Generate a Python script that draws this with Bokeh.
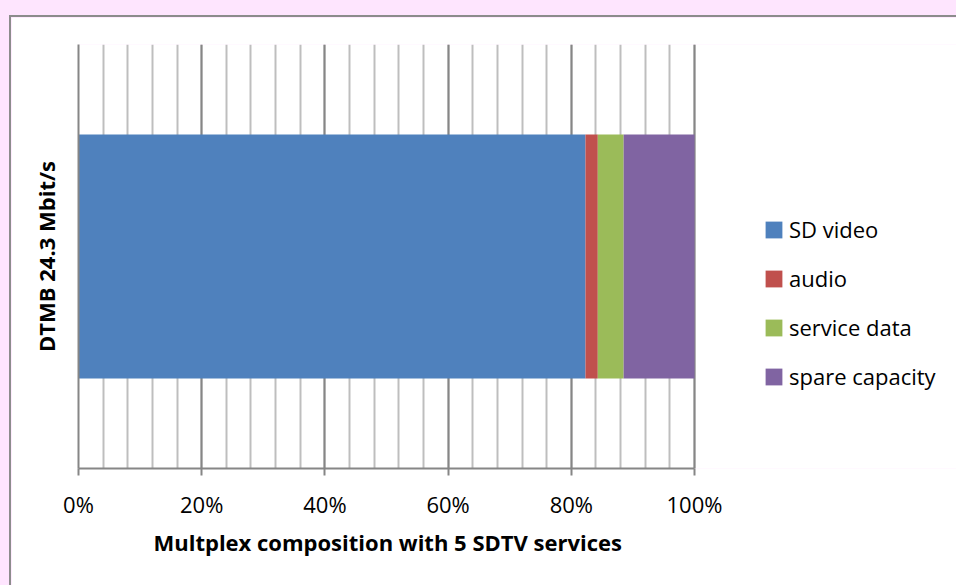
from bokeh.plotting import figure
from bokeh.layouts import column
from bokeh.models import (Range1d, FixedTicker, PrintfTickFormatter,
                          Legend, LegendItem, ColumnDataSource, Title)
from bokeh.embed import file_html
from bokeh.resources import INLINE

# Multiplex capacity split, percent of the 24.3 Mbit/s channel
series = ["SD video", "audio", "service data", "spare capacity"]
shares = [82.3, 2.0, 4.2, 11.5]
colors = ["#4f81bd", "#c0504d", "#9bbb59", "#8064a2"]
row_label = "DTMB 24.3 Mbit/s"
x_title = "Multplex composition  with 5 SDTV  services"
tick_values = [0, 20, 40, 60, 80, 100]
grid_step = 4

FONT = "Open Sans"
AXIS_GRAY = "#868686"
MINOR_GRAY = "#bebebe"

# canvas geometry: the 0-100 % axis spans AXIS_PX pixels, and the plot frame
# runs on to the right edge so the legend can sit inside it
CANVAS_W, CANVAS_H = 947, 570
LEFT, TOP, BOTTOM = 67, 27, 119
AXIS_PX = 616
x_end = 100.0 * (CANVAS_W - LEFT) / AXIS_PX

p = figure(width=CANVAS_W, height=CANVAS_H,
           x_range=Range1d(0, x_end), y_range=Range1d(0, 1),
           output_backend="svg", toolbar_location=None,
           min_border_left=LEFT, min_border_right=0,
           min_border_top=TOP, min_border_bottom=BOTTOM,
           border_fill_color="white", background_fill_color="white",
           outline_line_color=None,
           styles={"border-left": "2px solid #8c8c8c",
                   "border-top": "2px solid #8c8c8c",
                   "box-sizing": "border-box"})

# stacked horizontal bar
items = []
left = 0.0
for name, share, color in zip(series, shares, colors):
    src = ColumnDataSource(dict(y=[0.5], left=[left], right=[left + share]))
    r = p.hbar(y="y", left="left", right="right", height=0.575, source=src,
               fill_color=color, line_color=None)
    items.append(LegendItem(label=name, renderers=[r]))
    left += share

xa = p.xaxis[0]
xa.ticker = FixedTicker(ticks=tick_values,
                        minor_ticks=list(range(0, 101, grid_step)))
xa.formatter = PrintfTickFormatter(format="%d%%")
xa.bounds = (0, 100)
xa.axis_line_color = AXIS_GRAY
xa.axis_line_width = 2
xa.major_tick_line_color = AXIS_GRAY
xa.major_tick_line_width = 2
xa.major_tick_in = 0
xa.major_tick_out = 7
xa.minor_tick_line_color = None
xa.major_label_text_font = FONT
xa.major_label_text_font_size = "22px"
xa.major_label_text_color = "black"
xa.major_label_standoff = 13

# axis title, centred under the 0-100 % span rather than the whole frame
p.add_layout(Title(text=x_title, align="left", offset=75, standoff=6,
                   text_font=FONT, text_font_size="22px",
                   text_font_style="bold", text_color="black"), "below")

# vertical gridlines: light every 4 %, darker at the labelled ticks
p.xgrid.grid_line_color = AXIS_GRAY
p.xgrid.grid_line_width = 2
p.xgrid.minor_grid_line_color = MINOR_GRAY
p.xgrid.minor_grid_line_width = 2
p.ygrid.grid_line_color = None

ya = p.yaxis[0]
ya.ticker = FixedTicker(ticks=[])
ya.axis_line_color = AXIS_GRAY
ya.axis_line_width = 2
ya.major_tick_line_color = None
ya.minor_tick_line_color = None
ya.major_tick_out = 0
ya.major_label_standoff = 0
ya.axis_label = row_label
ya.axis_label_text_font = FONT
ya.axis_label_text_font_size = "22px"
ya.axis_label_text_font_style = "bold"
ya.axis_label_text_color = "black"
ya.axis_label_standoff = 18

legend = Legend(items=items, location=(685, 77),
                glyph_width=21, glyph_height=21, label_height=17,
                label_standoff=5, spacing=19, padding=0, margin=0,
                border_line_color=None, background_fill_alpha=0,
                label_text_font=FONT, label_text_font_size="22px",
                label_text_color="black")
p.add_layout(legend)

page = column(p, width=956, height=585,
              styles={"background-color": "#fee5fe",
                      "padding-left": "9px", "padding-top": "15px",
                      "box-sizing": "border-box"})

open("out.html", "w").write(file_html(page, INLINE))
